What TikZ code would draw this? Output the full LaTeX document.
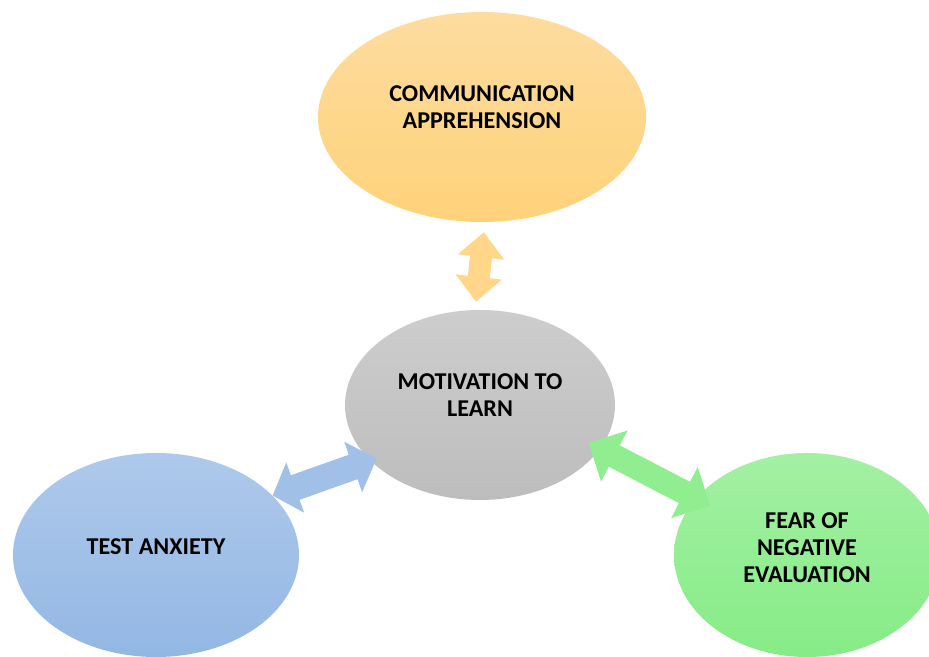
\documentclass[tikz,border=0pt]{standalone}
\usepackage{fontspec}
\setmainfont{Carlito}
\usetikzlibrary{shapes.geometric,arrows.meta}

\definecolor{orangetop}{HTML}{FDDC9F}
\definecolor{orangebot}{HTML}{FFD27A}
\definecolor{graytop}{HTML}{CDCDCD}
\definecolor{graybot}{HTML}{BDBDBD}
\definecolor{bluetop}{HTML}{AEC9EB}
\definecolor{bluebot}{HTML}{93B7E4}
\definecolor{greentop}{HTML}{A3F0A3}
\definecolor{greenbot}{HTML}{86EC86}
\definecolor{orangearrow}{HTML}{FFD68A}
\definecolor{bluearrow}{HTML}{A0C0E8}
\definecolor{greenarrow}{HTML}{90EE90}

\begin{document}
\begin{tikzpicture}
    [
        x=0.03cm, y=0.03cm,
        blob/.style={ellipse, inner sep=0pt},
        caption/.style={align=center, font=\fontsize{20.6}{23}\selectfont\bfseries},
        link/.style={line width=0.66cm, line cap=butt},
    ]

    \useasboundingbox (0,0) rectangle (929,657);

    % ellipses
    \node (comm)  at (482,540) [blob, minimum width=9.84cm, minimum height=6.3cm,
        top color=orangetop, bottom color=orangebot] {};
    \node (motiv) at (480,252) [blob, minimum width=8.1cm, minimum height=5.7cm,
        top color=graytop, bottom color=graybot] {};
    \node (test)  at (156,102) [blob, minimum width=8.58cm, minimum height=6.12cm,
        top color=bluetop, bottom color=bluebot] {};
    \node (fear)  at (807,102) [blob, minimum width=7.98cm, minimum height=6.12cm,
        top color=greentop, bottom color=greenbot] {};

    % texts
    \node (commtext)  at ([yshift=0.3cm]comm.center)   [caption] {COMMUNICATION\\APPREHENSION};
    \node (motivtext) at ([yshift=0.3cm]motiv.center)  [caption] {MOTIVATION TO\\LEARN};
    \node (testtext)  at ([yshift=0.24cm]test.center)  [caption] {TEST ANXIETY};
    \node (feartext)  at ([yshift=0.21cm]fear.center)  [caption] {FEAR OF\\NEGATIVE\\EVALUATION};

    % double arrows
    \draw [link, orangearrow, {Triangle[width=1.35cm, length=0.75cm]}-{Triangle[width=1.35cm, length=0.75cm]},
        shorten <=0.3cm, shorten >=0.24cm]
        ([xshift=0.09cm]comm.south) -- ([xshift=-0.15cm]motiv.north);
    \draw [link, bluearrow, line width=0.78cm, {Triangle[width=1.56cm, length=0.72cm]}-{Triangle[width=1.56cm, length=0.75cm]},
        shorten >=-0.2cm]
        (test.27) -- (motiv.207);
    \draw [link, greenarrow, line width=0.72cm, {Triangle[width=1.68cm, length=0.87cm]}-{Triangle[width=1.68cm, length=0.87cm]},
        shorten <=-0.39cm, shorten >=-0.48cm]
        (motiv.340) -- (fear.153);
\end{tikzpicture}
\end{document}
